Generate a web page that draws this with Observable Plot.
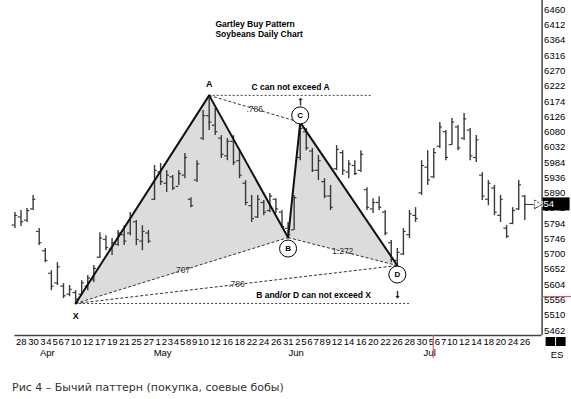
<!DOCTYPE html>
<html><head><meta charset="utf-8">
<script src="https://cdn.jsdelivr.net/npm/d3@7"></script>
<script src="https://cdn.jsdelivr.net/npm/@observablehq/plot@0.6"></script>
<style>
body{margin:0;background:#fff;}
#cap{font-family:"DejaVu Sans";font-size:11px;color:#333;padding:11px 0 0 12px;line-height:14px;white-space:pre;}
</style></head><body>
<div id="chart"></div>
<div id="cap">Рис 4 – Бычий паттерн (покупка, соевые бобы)</div>
<script>
// ---- data (trading-day index, first bar = -1) ----
const firstIdx = -1;
const high  = [5829,5835,5841,5882,5779,5717,5648,5673,5608,5602,5586,5617,5633,5664,5766,5757,5748,5773,5788,5829,5804,5788,5773,5975,5981,5959,5944,5959,6012,5875,5990,6146,6193,6152,6068,6059,6068,6021,5928,5882,5882,5866,5888,5872,5835,5798,5882,6109,6090,6028,6006,5934,5913,6037,6021,5990,5990,6021,5906,5872,5878,5835,5742,5717,5779,5835,5844,5990,6021,6028,6109,6084,6121,6099,6137,6090,6068,5953,5928,5913,5882,5788,5844,5928,5882];
const low   = [5779,5785,5798,5835,5726,5673,5586,5602,5561,5567,5546,5571,5586,5611,5686,5710,5695,5723,5726,5757,5726,5710,5732,5866,5913,5891,5897,5913,5934,5844,5922,6053,6084,6068,5997,5990,5975,5934,5850,5798,5810,5819,5829,5826,5779,5751,5773,5990,6021,5953,5928,5872,5835,5959,5944,5934,5944,5953,5835,5826,5835,5757,5673,5664,5695,5748,5798,5882,5913,5934,6028,5990,6037,6021,6053,5990,5984,5866,5850,5819,5798,5748,5791,5835,5804];
const open  = [5790,5815,5805,5840,5770,5710,5640,5610,5600,5575,5580,5575,5600,5620,5690,5745,5715,5730,5760,5765,5800,5740,5765,5870,5955,5920,5940,5910,5945,5870,5930,6060,6130,6100,6060,6005,6050,5990,5920,5850,5815,5860,5835,5870,5830,5780,5775,6000,6080,6020,5960,5925,5880,5965,6015,5955,5975,5960,5900,5840,5860,5830,5735,5680,5700,5760,5820,5890,5970,5940,6035,6080,6040,6095,6060,6085,6000,5945,5870,5905,5820,5780,5795,5840,5880];
const close = [5820,5800,5835,5870,5735,5680,5600,5660,5570,5590,5560,5610,5625,5655,5750,5720,5735,5765,5740,5815,5745,5770,5740,5960,5925,5945,5905,5950,6000,5850,5980,6130,6110,6080,6010,6050,5985,5945,5860,5810,5870,5830,5880,5840,5785,5760,5875,6090,6030,5960,5990,5880,5845,6025,5960,5980,5950,6010,5845,5860,5845,5765,5685,5705,5770,5825,5810,5975,5930,6015,6095,6000,6110,6030,6120,6005,6055,5880,5920,5830,5870,5755,5835,5915,5854];
const dateTickIdx    = [0,2,4,5,6,7,8,9,11,13,15,17,19,21,23,24,25,26,27,28,29,30,32,34,36,38,40,42,44,46,47,48,49,50,51,52,54,56,58,60,62,64,66,68,69,70,71,73,75,77,79,81,83];
const dateTickLabels = ["28","30","3","4","5","6","7","10","12","17","19","21","25","27","1","2","3","4","5","8","9","10","12","16","18","22","24","26","31","2","5","6","7","8","9","12","14","16","20","22","26","28","30","5","6","7","10","12","14","18","20","24","26"];
const monthTickIdx    = [4,23,45,67];
const monthTickLabels = ["Apr","May","Jun","Jul"];
const priceTicks = [6460,6412,6364,6316,6270,6222,6174,6126,6080,6032,5984,5936,5890,5842,5794,5746,5700,5652,5604,5556,5510,5462];
const patternNames = ["X","A","B","C","D"];
const patternIdx   = [9,31,44,46,62];
const patternPrice = [5546,6193,5751,6109,5664];
const ratioPairs  = [["X","B"],["A","C"],["B","D"],["X","D"]];
const ratioLabels = [".707",".786","1.272",".786"];
const limitNotes  = ["C can not exceed A","B and/or D can not exceed X"];
const limitFrom   = ["A","X"];
const limitToIdx  = [58,64];
const limitNoteIdx = [44.4,48.2];
const limitArrowAt = ["C","D"];
const titleText = "Gartley Buy Pattern\nSoybeans Daily Chart";
const lastClose = 5854;
const markerIdx = 68;
const markerPrice = 5566;
const xDomain = [-1, 85.85];
const yDomain = [5446.5, 6488];

// ---- derived tables ----
const bars = high.map((h, k) => ({i: k + firstIdx, h, l: low[k], o: open[k], c: close[k]}));
const pts = Object.fromEntries(patternNames.map((n, k) => [n, {name: n, i: patternIdx[k], p: patternPrice[k]}]));
const pattern = patternNames.map(n => pts[n]);
const triangles = [["X","A","B"],["B","C","D"]].flatMap((t, k) => t.map(n => ({...pts[n], tri: k})));
const ratios = ratioPairs.map(([a, b], k) => ({a: pts[a], b: pts[b], label: ratioLabels[k]}));
const limits = limitNotes.map((t, k) => ({text: t, from: pts[limitFrom[k]], to: limitToIdx[k], noteI: limitNoteIdx[k], arrow: pts[limitArrowAt[k]]}));
const dateLab = new Map(dateTickIdx.map((d, k) => [d, dateTickLabels[k]]));
const monthLab = new Map(monthTickIdx.map((d, k) => [d, monthTickLabels[k]]));
const barColor = "#3a3a3a";

const chart = Plot.plot({
  width: 571, height: 370,
  marginLeft: 14.43, marginRight: 29.4, marginTop: 0, marginBottom: 35,
  x: {domain: xDomain, axis: null},
  y: {domain: yDomain, axis: null},
  style: {fontFamily: "Liberation Sans, Arial, sans-serif", fontSize: "9.5px", color: "#000", background: "white", overflow: "visible"},
  marks: [
    Plot.line(triangles, {x: "i", y: "p", z: "tri", fill: "#dcdcdc", stroke: "none"}),
    Plot.ruleX(bars, {x: "i", y1: "l", y2: "h", stroke: barColor, strokeWidth: 1.4}),
    Plot.ruleY(bars, {y: "o", x1: d => d.i - 0.45, x2: "i", stroke: barColor, strokeWidth: 1.2}),
    Plot.ruleY(bars, {y: "c", x1: "i", x2: d => d.i + 0.45, stroke: barColor, strokeWidth: 1.2}),
    Plot.ruleY(limits, {y: d => d.from.p, x1: d => d.from.i, x2: "to", stroke: "#444", strokeDasharray: "2,2"}),
    Plot.link(ratios, {x1: d => d.a.i, y1: d => d.a.p, x2: d => d.b.i, y2: d => d.b.p, stroke: "#333", strokeDasharray: "3,2", strokeWidth: 1}),
    Plot.line(pattern, {x: "i", y: "p", stroke: "#111", strokeWidth: 2}),
    Plot.text(ratios, {x: d => (d.a.i + d.b.i) / 2, y: d => (d.a.p + d.b.p) / 2, text: "label", fontSize: 8.5, fill: "#333"}),
    Plot.text([pts.A], {x: "i", y: "p", text: "name", dy: -11, fontWeight: "bold", fontSize: 9}),
    Plot.text([pts.X], {x: "i", y: "p", text: "name", dy: 13, fontWeight: "bold", fontSize: 9}),
    Plot.dot([pts.B], {x: "i", y: "p", r: 8.5, dy: 11, fill: "white", stroke: "#000", strokeWidth: 1}),
    Plot.dot([pts.C], {x: "i", y: "p", r: 8.5, dy: -7, fill: "white", stroke: "#000", strokeWidth: 1}),
    Plot.dot([pts.D], {x: "i", y: "p", r: 8.5, dy: 9, fill: "white", stroke: "#000", strokeWidth: 1}),
    Plot.text([pts.B], {x: "i", y: "p", text: "name", dy: 11, fontWeight: "bold", fontSize: 8}),
    Plot.text([pts.C], {x: "i", y: "p", text: "name", dy: -7, fontWeight: "bold", fontSize: 8}),
    Plot.text([pts.D], {x: "i", y: "p", text: "name", dy: 9, fontWeight: "bold", fontSize: 8}),
    Plot.text(limits, {x: "noteI", y: d => d.from.p, dy: -8, text: "text", fontWeight: "bold", fontSize: 8.5}),
    Plot.text([limits[0]], {x: d => d.arrow.i, y: d => d.from.p, dy: 6, text: d => "↑", fontWeight: "bold", fontSize: 12, stroke: "#000", strokeWidth: 0.6}),
    Plot.text([limits[1]], {x: d => d.arrow.i, y: d => d.from.p, dy: -9, text: d => "↓", fontWeight: "bold", fontSize: 12, stroke: "#000", strokeWidth: 0.6}),
    Plot.text([titleText], {frameAnchor: "top-left", dx: 200.5, dy: 28, textAnchor: "start", lineAnchor: "middle", lineHeight: 1.18, fontWeight: "bold", fontSize: 8.5}),
    // last-price pointer: short stem plus hollow right-pointing triangle
    Plot.ruleY([lastClose], {x1: xDomain[1] - 2.4, x2: xDomain[1] - 1.3, stroke: "#333", strokeWidth: 1}),
    Plot.dot([lastClose], {y: d => d, x: xDomain[1] - 0.85, symbol: "triangle", rotate: 90, r: 3.2, fill: "white", stroke: "#333", strokeWidth: 1}),
    Plot.ruleY([yDomain[0]], {stroke: "#444", strokeWidth: 1.5}),
    Plot.ruleX([xDomain[1]], {stroke: "#444", strokeWidth: 1.5}),
    Plot.axisY(priceTicks, {anchor: "right", tickSize: 0, tickPadding: 2, textAnchor: "start", label: null, tickFormat: d => String(d), fontSize: 9.5}),
    Plot.axisX(dateTickIdx, {anchor: "bottom", tickSize: 0, tickPadding: 3, textAnchor: "start", dx: -5, label: null, tickFormat: d => dateLab.get(d), fontSize: 9.5}),
    Plot.axisX(monthTickIdx, {anchor: "bottom", tickSize: 0, tickPadding: 14, dx: 2, label: null, tickFormat: d => monthLab.get(d), fontSize: 9.5})
  ]
});

document.getElementById("chart").appendChild(chart);

// decorations in the right margin, placed through the plot's own scales
const sx = chart.scale("x"), sy = chart.scale("y");
const svg = d3.select(chart);
const xr = sx.apply(xDomain[1]);
const yb = sy.apply(yDomain[0]);
const yc = sy.apply(lastClose);
svg.append("rect").attr("x", xr + 1).attr("y", yc - 6.5).attr("width", 27).attr("height", 13).attr("fill", "#000");
svg.append("text").attr("x", xr + 2).attr("y", yc).attr("dy", "0.35em").attr("fill", "#fff")
  .attr("font-family", "Liberation Sans, Arial").attr("font-size", 9.5).text(lastClose);
const ym = sy.apply(markerPrice);
svg.append("line").attr("x1", xr).attr("x2", 571).attr("y1", ym).attr("y2", ym).attr("stroke", "#c8646e").attr("stroke-width", 1.2);
const xm = sx.apply(markerIdx);
svg.append("line").attr("x1", xm).attr("x2", xm).attr("y1", yb).attr("y2", yb + 23).attr("stroke", "#c8646e").attr("stroke-width", 1.2);
svg.append("rect").attr("x", xr + 4).attr("y", yb + 2).attr("width", 9.5).attr("height", 9).attr("fill", "#000");
svg.append("rect").attr("x", xr + 14.5).attr("y", yb + 2).attr("width", 9.5).attr("height", 9).attr("fill", "#000");
svg.append("text").attr("x", xr + 15.5).attr("y", yb + 20).attr("dy", "0.35em").attr("text-anchor", "middle")
  .attr("font-family", "Liberation Sans, Arial").attr("font-size", 9.5).text("ES");
</script>
</body></html>
